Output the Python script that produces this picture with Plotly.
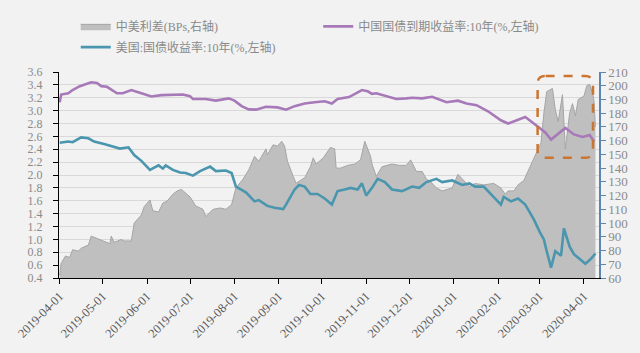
import plotly.graph_objects as go

# ---------------- data ----------------
cn_dates = ["2019-04-01","2019-04-02","2019-04-07","2019-04-10","2019-04-15","2019-04-18","2019-04-23","2019-04-27","2019-04-30","2019-05-04",
            "2019-05-11","2019-05-15","2019-05-21","2019-05-28","2019-06-04","2019-06-11","2019-06-17","2019-06-26","2019-07-01","2019-07-03",
            "2019-07-12","2019-07-19","2019-07-28","2019-08-01","2019-08-06","2019-08-11","2019-08-16","2019-08-23","2019-08-31","2019-09-06",
            "2019-09-12","2019-09-19","2019-09-26","2019-10-03","2019-10-08","2019-10-12","2019-10-20","2019-10-24","2019-10-29","2019-11-02",
            "2019-11-05","2019-11-08","2019-11-15","2019-11-22","2019-11-29","2019-12-03","2019-12-10","2019-12-17","2019-12-27","2020-01-04",
            "2020-01-10","2020-01-17","2020-01-25","2020-02-03","2020-02-08","2020-02-15","2020-02-20","2020-02-26","2020-03-01","2020-03-05",
            "2020-03-09","2020-03-15","2020-03-19","2020-03-25","2020-03-31","2020-04-05","2020-04-08"]
cn_yield = [3.13,3.25,3.27,3.32,3.38,3.40,3.44,3.43,3.38,3.37,
            3.27,3.27,3.32,3.27,3.22,3.24,3.24,3.25,3.225,3.18,
            3.18,3.155,3.19,3.155,3.07,3.02,3.015,3.06,3.05,3.015,
            3.07,3.11,3.13,3.145,3.11,3.18,3.21,3.26,3.32,3.30,
            3.26,3.27,3.225,3.18,3.19,3.20,3.19,3.215,3.13,3.155,
            3.11,3.085,2.99,2.85,2.80,2.865,2.90,2.80,2.73,2.66,
            2.55,2.66,2.73,2.63,2.59,2.62,2.52]

us_dates = ["2019-04-01","2019-04-07","2019-04-10","2019-04-16","2019-04-21","2019-04-25","2019-05-02","2019-05-08","2019-05-13","2019-05-19",
            "2019-05-23","2019-05-28","2019-05-30","2019-06-03","2019-06-09","2019-06-12","2019-06-14","2019-06-19","2019-06-24","2019-06-28",
            "2019-07-03","2019-07-08","2019-07-15","2019-07-19","2019-07-26","2019-07-30","2019-08-02","2019-08-09","2019-08-15","2019-08-18",
            "2019-08-24","2019-08-29","2019-09-04","2019-09-06","2019-09-12","2019-09-15","2019-09-19","2019-09-23","2019-09-28","2019-10-03",
            "2019-10-08","2019-10-12","2019-10-17","2019-10-21","2019-10-26","2019-10-29","2019-11-01","2019-11-05","2019-11-09","2019-11-14",
            "2019-11-19","2019-11-26","2019-12-03","2019-12-08","2019-12-13","2019-12-20","2019-12-24","2019-12-31","2020-01-07","2020-01-12",
            "2020-01-16","2020-01-22","2020-02-03","2020-02-05","2020-02-10","2020-02-15","2020-02-20","2020-02-26","2020-03-01","2020-03-04",
            "2020-03-06","2020-03-09","2020-03-12","2020-03-16","2020-03-18","2020-03-22","2020-03-25","2020-03-30","2020-04-02","2020-04-06",
            "2020-04-09"]
us_yield = [2.50,2.52,2.51,2.585,2.57,2.52,2.48,2.445,2.41,2.43,
            2.31,2.22,2.17,2.08,2.15,2.10,2.15,2.08,2.04,2.03,
            1.99,2.06,2.13,2.06,2.07,2.03,1.82,1.73,1.59,1.61,
            1.52,1.49,1.47,1.54,1.775,1.845,1.82,1.705,1.705,1.635,
            1.54,1.75,1.775,1.80,1.775,1.87,1.68,1.80,1.94,1.89,
            1.775,1.75,1.82,1.80,1.89,1.94,1.89,1.915,1.845,1.87,
            1.82,1.82,1.54,1.66,1.59,1.635,1.54,1.31,1.12,1.00,
            0.817,0.56,0.817,0.747,1.17,0.887,0.77,0.68,0.62,0.70,
            0.78]

spread_dates = ["2019-04-01","2019-04-02","2019-04-05","2019-04-08","2019-04-10","2019-04-14","2019-04-16","2019-04-21","2019-04-23","2019-04-28",
                "2019-05-02","2019-05-06","2019-05-07","2019-05-09","2019-05-14","2019-05-16","2019-05-21","2019-05-23","2019-05-28","2019-05-30",
                "2019-06-03","2019-06-05","2019-06-09","2019-06-12","2019-06-15","2019-06-19","2019-06-22","2019-06-25","2019-07-01","2019-07-05",
                "2019-07-10","2019-07-12","2019-07-17","2019-07-22","2019-07-26","2019-07-30","2019-08-02","2019-08-07","2019-08-11","2019-08-15",
                "2019-08-18","2019-08-23","2019-08-24","2019-08-28","2019-08-31","2019-09-03","2019-09-05","2019-09-07","2019-09-11","2019-09-13",
                "2019-09-19","2019-09-23","2019-09-25","2019-09-27","2019-10-02","2019-10-07","2019-10-10","2019-10-11","2019-10-14","2019-10-19",
                "2019-10-24","2019-10-28","2019-10-31","2019-11-02","2019-11-04","2019-11-05","2019-11-08","2019-11-12","2019-11-15","2019-11-19",
                "2019-11-24","2019-11-29","2019-12-02","2019-12-06","2019-12-10","2019-12-13","2019-12-16","2019-12-20","2019-12-24","2019-12-31",
                "2020-01-04","2020-01-07","2020-01-12","2020-01-16","2020-01-22","2020-01-29","2020-02-03","2020-02-06","2020-02-08","2020-02-12",
                "2020-02-15","2020-02-19","2020-02-22","2020-02-26","2020-02-28","2020-03-02","2020-03-04","2020-03-06","2020-03-10","2020-03-12",
                "2020-03-14","2020-03-17","2020-03-19","2020-03-22","2020-03-24","2020-03-26","2020-03-28","2020-04-01","2020-04-03","2020-04-05",
                "2020-04-07","2020-04-08","2020-04-09"]
spread_bp = [62,70.7,76,75,80.6,79.6,81.7,84,90.5,88.3,
             87,85,90.5,86,88,87,87,100,105.9,112,
             116.8,109,108,114.6,116,121,123.4,124.5,119,112.4,
             110,104.7,110,111,110,113.5,125.6,132,138.8,148.6,
             145,154,149.7,157,156,159.5,156,145,134,129,
             133,141,147.5,143,147.5,155,154,140,140,142,
             143,146,159.5,154,148.6,143,134,141,142,143,
             142,142,146,137.6,137.6,132,130,125.6,123.4,125.6,
             135.5,132,126.6,128.8,127.8,128.9,125.6,121,123.4,123.4,
             127.8,131,137.6,147.5,152,158.5,180,195.7,198,182.6,
             174,193.5,154,180,187,178,190,192.5,200,201,
             194.7,189,170]

month_ticks = ["2019-04-01","2019-05-01","2019-06-01","2019-07-01","2019-08-01","2019-09-01","2019-10-01",
               "2019-11-01","2019-12-01","2020-01-01","2020-02-01","2020-03-01","2020-04-01"]

# ---------------- figure ----------------
SERIF = "Liberation Serif, Noto Sans CJK SC"
GREY_TXT = "#8A8A8A"
DARK_TXT = "#595959"

fig = go.Figure()
fig.add_trace(go.Scatter(
    x=spread_dates, y=spread_bp, name="中美利差(BPs,右轴)", mode="lines",
    fill="tozeroy", fillcolor="#BFBFBF", line=dict(color="#A5A5A5", width=1),
    yaxis="y", legend="legend"))
fig.add_trace(go.Scatter(
    x=cn_dates, y=cn_yield, name="中国国债到期收益率:10年(%,左轴)", mode="lines",
    line=dict(color="#A779B8", width=2.6), yaxis="y2", legend="legend2"))
fig.add_trace(go.Scatter(
    x=us_dates, y=us_yield, name="美国:国债收益率:10年(%,左轴)", mode="lines",
    line=dict(color="#4A96AF", width=2.6), yaxis="y2", legend="legend3"))

# dashed rounded box (paper coordinates)
L, R, T, B = 0.8863, 0.9889, 0.9803, 0.5833
rx, ry = 0.0148, 0.0351
path = (f"M{L+rx},{T} L{R-rx},{T} Q{R},{T} {R},{T-ry} L{R},{B+ry} Q{R},{B} {R-rx},{B} "
        f"L{L+rx},{B} Q{L},{B} {L},{B+ry} L{L},{T-ry} Q{L},{T} {L+rx},{T} Z")
fig.add_shape(type="path", path=path, xref="paper", yref="paper",
              line=dict(color="#CC7530", width=2.5, dash="dash"))

leg_common = dict(orientation="h", xanchor="left", yanchor="top", itemwidth=30,
                  bgcolor="rgba(0,0,0,0)", font=dict(family=SERIF, size=12, color=GREY_TXT))

fig.update_layout(
    width=640, height=353,
    margin=dict(l=59, r=40, t=65, b=60),
    paper_bgcolor="#F2F2F2", plot_bgcolor="#F2F2F2",
    font=dict(family=SERIF, size=12, color=GREY_TXT),
    showlegend=True,
    legend=dict(x=0.031, y=1.292, **leg_common),
    legend2=dict(x=0.480, y=1.292, **leg_common),
    legend3=dict(x=0.031, y=1.191, **leg_common),
    xaxis=dict(type="date", range=["2019-03-31 12:00", "2020-04-11 12:00"],
               tickvals=month_ticks, ticktext=month_ticks, tickangle=-45,
               ticks="outside", ticklen=5, tickcolor="#000000",
               showline=True, linecolor="#000000", linewidth=1,
               showgrid=False, zeroline=False,
               tickfont=dict(family=SERIF, size=12.5, color=DARK_TXT)),
    yaxis=dict(side="right", range=[60, 210], dtick=10, tick0=60,
               ticks="outside", ticklen=5, tickcolor="#5A86B0",
               showline=True, linecolor="#5A86B0", linewidth=1.5,
               showgrid=False, zeroline=False,
               tickfont=dict(family=SERIF, size=13, color=GREY_TXT)),
    yaxis2=dict(side="left", overlaying="y", range=[0.4, 3.6], dtick=0.2, tick0=0.4,
                tickformat=".1f",
                ticks="outside", ticklen=5, tickcolor="#000000",
                showline=True, linecolor="#000000", linewidth=1,
                showgrid=True, gridcolor="#D9D9D9", gridwidth=1, zeroline=False,
                ticklabelstandoff=8,
                tickfont=dict(family=SERIF, size=12, color=GREY_TXT)),
)

fig.write_html("out.html")
